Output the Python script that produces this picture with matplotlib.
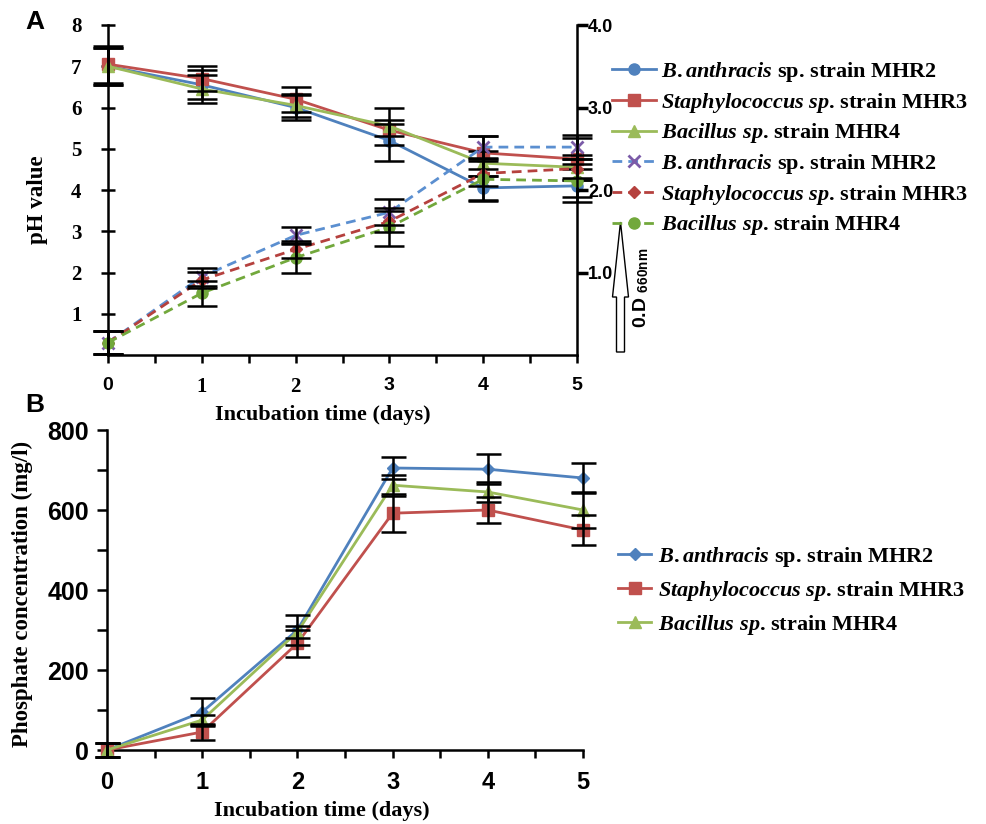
import matplotlib
matplotlib.use('Agg')
import matplotlib.pyplot as plt
from matplotlib.patches import FancyArrow
from matplotlib.ticker import MultipleLocator, FixedLocator
from matplotlib.font_manager import FontProperties

plt.rcParams['mathtext.fontset'] = 'custom'
plt.rcParams['mathtext.it'] = 'Liberation Serif:italic:bold'
plt.rcParams['mathtext.rm'] = 'Liberation Serif:bold'
plt.rcParams['mathtext.sf'] = 'Liberation Sans:bold'
plt.rcParams['font.family'] = ['Liberation Serif', 'DejaVu Serif']
plt.rcParams['font.weight'] = 'bold'

# ---------------- data ----------------
days = [0, 1, 2, 3, 4, 5]
strain_labels = [r'$\mathit{B.anthracis}$ sp. strain MHR2',
                 r'$\mathit{Staphylococcus\ sp}$. strain MHR3',
                 r'$\mathit{Bacillus\ sp}$. strain MHR4']

# pH (left axis, panel A)
ph_mhr2 = [7.0, 6.55, 6.0, 5.2, 4.05, 4.1]
ph_mhr3 = [7.05, 6.7, 6.2, 5.45, 4.9, 4.75]
ph_mhr4 = [7.0, 6.45, 6.05, 5.55, 4.65, 4.55]
ph_mhr2_err = [0.45, 0.35, 0.3, 0.5, 0.3, 0.4]
ph_mhr3_err = [0.45, 0.3, 0.3, 0.15, 0.4, 0.5]
ph_mhr4_err = [0.45, 0.35, 0.27, 0.45, 0.3, 0.3]

# O.D 660nm (right axis, panel A)
od_mhr2 = [0.15, 0.95, 1.45, 1.73, 2.52, 2.52]
od_mhr3 = [0.15, 0.91, 1.28, 1.62, 2.2, 2.26]
od_mhr4 = [0.15, 0.75, 1.18, 1.55, 2.13, 2.11]
od_mhr2_err = [0.14, 0.11, 0.1, 0.16, 0.14, 0.15]
od_mhr3_err = [0.14, 0.1, 0.1, 0.13, 0.15, 0.12]
od_mhr4_err = [0.14, 0.15, 0.18, 0.23, 0.26, 0.2]

# Phosphate concentration (panel B)
po4_mhr2 = [0, 95, 300, 705, 702, 680]
po4_mhr3 = [0, 45, 267, 592, 600, 550]
po4_mhr4 = [0, 75, 295, 662, 645, 600]
po4_mhr2_err = [18, 35, 37, 28, 38, 38]
po4_mhr3_err = [18, 20, 34, 47, 33, 38]
po4_mhr4_err = [18, 12, 15, 26, 25, 45]

ph_ticks = [1, 2, 3, 4, 5, 6, 7, 8]
od_ticks = [1.0, 2.0, 3.0, 4.0]
od_ticklabels = ['1.0', '2.0', '3.0', '4.0']
po4_ticks = [0, 200, 400, 600, 800]

# ---------------- style ----------------
BLUE = '#4F81BD'
RED = '#C0504D'
GREEN = '#9BBB59'
BLUE_D = '#5B8FD0'
RED_D = '#B5413E'
GREEN_D = '#72A83C'
PURPLE = '#7B5BA8'

W, H = 986, 824
fig = plt.figure(figsize=(W / 100, H / 100), dpi=100)


def fx(px):
    return px / W


def fy(py):
    return 1 - py / H


serif_b = FontProperties(family='Liberation Serif', weight='bold', size=15)
sans_b = FontProperties(family='Liberation Sans', weight='bold', size=14)

# ================= Panel A =================
ax1 = fig.add_axes([fx(108), fy(355), fx(577) - fx(108), fy(25) - fy(355)])
ax2 = ax1.twinx()
ax1.set_xlim(0, 5)
ax1.set_ylim(0, 8)
ax2.set_ylim(0, 4)

ekw = dict(fmt='none', ecolor='black', elinewidth=1.8, capthick=1.8,
           capsize=11, zorder=5, clip_on=False)
lkw = dict(lw=2.0, ms=8, clip_on=False, zorder=3)

h1, = ax1.plot(days, ph_mhr2, '-o', color=BLUE, mfc=BLUE, mec=BLUE, **lkw)
h2, = ax1.plot(days, ph_mhr3, '-s', color=RED, mfc=RED, mec=RED, **lkw)
h3, = ax1.plot(days, ph_mhr4, '-^', color=GREEN, mfc=GREEN, mec=GREEN, **lkw)
for y, e in [(ph_mhr2, ph_mhr2_err), (ph_mhr3, ph_mhr3_err), (ph_mhr4, ph_mhr4_err)]:
    ax1.errorbar(days, y, yerr=e, **ekw)

dash = (0, (3.5, 2.2))
h4, = ax2.plot(days, od_mhr2, linestyle=dash, marker='x', color=BLUE_D, mec=PURPLE,
               mew=2, **lkw)
h5, = ax2.plot(days, od_mhr3, linestyle=dash, marker='D', color=RED_D, mfc=RED_D,
               mec=RED_D, lw=2.0, ms=6, clip_on=False, zorder=3)
h6, = ax2.plot(days, od_mhr4, linestyle=dash, marker='o', color=GREEN_D, mfc=GREEN_D,
               mec=GREEN_D, **lkw)
for y, e in [(od_mhr2, od_mhr2_err), (od_mhr3, od_mhr3_err), (od_mhr4, od_mhr4_err)]:
    ax2.errorbar(days, y, yerr=e, **ekw)

for ax in (ax1, ax2):
    ax.spines['top'].set_visible(False)
    for s in ax.spines.values():
        s.set_linewidth(1.8)
ax1.spines['right'].set_visible(False)
ax2.spines['left'].set_visible(False)
ax2.spines['bottom'].set_visible(False)

ax1.yaxis.set_major_locator(FixedLocator(ph_ticks))
ax1.set_yticklabels([str(t) for t in ph_ticks])
ax1.tick_params(axis='y', direction='inout', length=10, width=1.8, pad=14)
for lab in ax1.get_yticklabels():
    lab.set_fontproperties(serif_b)

ax1.xaxis.set_major_locator(FixedLocator(days))
ax1.xaxis.set_minor_locator(MultipleLocator(0.5))
ax1.set_xticklabels([str(d) for d in days])
ax1.tick_params(axis='x', which='both', direction='out', length=6, width=1.8, pad=10)
for i, lab in enumerate(ax1.get_xticklabels()):
    if i in (1, 2):
        lab.set_fontproperties(serif_b)
    else:
        lab.set_fontproperties(sans_b)

ax2.yaxis.set_major_locator(FixedLocator(od_ticks))
ax2.set_yticklabels(od_ticklabels)
ax2.tick_params(axis='y', direction='out', length=8, width=2.5, pad=0)
for lab in ax2.get_yticklabels():
    lab.set_fontproperties(FontProperties(family='Liberation Sans', weight='bold', size=13))

fig.text(fx(37), fy(200), 'pH value', rotation=90, ha='center', va='center',
         fontsize=16.5, fontweight='bold')
fig.text(fx(323), fy(415), 'Incubation time (days)', ha='center', va='center',
         fontsize=16, fontweight='bold')
fig.text(fx(35), fy(22), 'A', ha='center', va='center', fontsize=19,
         fontweight='bold', family='Liberation Sans')

leg1 = fig.legend([h1, h2, h3, h4, h5, h6], strain_labels + strain_labels,
                  loc='upper left', bbox_to_anchor=(fx(612), fy(60)),
                  frameon=False, fontsize=16, handlelength=2.0,
                  handletextpad=0.2, labelspacing=0.3, borderpad=0,
                  borderaxespad=0)

arrow = FancyArrow(6.205, (H - 352) / 100, 0, 1.30, width=0.08, head_width=0.16,
                   head_length=0.75, length_includes_head=True,
                   transform=fig.dpi_scale_trans, fc='white', ec='black', lw=1.0)
fig.add_artist(arrow)
fig.text(fx(641), fy(288), r'0.D $_{\mathsf{660nm}}$', rotation=90, ha='center',
         va='center', fontsize=14, fontweight='bold', family='Liberation Sans')

# ================= Panel B =================
ax3 = fig.add_axes([fx(107), fy(750), fx(583) - fx(107), fy(430) - fy(750)])
ax3.set_xlim(0, 5)
ax3.set_ylim(0, 800)
ekw2 = dict(ekw)
ekw2['capsize'] = 9

p1, = ax3.plot(days, po4_mhr2, '-D', color=BLUE, mfc=BLUE, mec=BLUE, lw=2.0, ms=6,
               clip_on=False, zorder=3)
p2, = ax3.plot(days, po4_mhr3, '-s', color=RED, mfc=RED, mec=RED, lw=2.0, ms=8,
               clip_on=False, zorder=3)
p3, = ax3.plot(days, po4_mhr4, '-^', color=GREEN, mfc=GREEN, mec=GREEN, lw=2.0, ms=8,
               clip_on=False, zorder=3)
for y, e in [(po4_mhr2, po4_mhr2_err), (po4_mhr3, po4_mhr3_err), (po4_mhr4, po4_mhr4_err)]:
    ax3.errorbar(days, y, yerr=e, **ekw2)

ax3.spines['top'].set_visible(False)
ax3.spines['right'].set_visible(False)
for s in ax3.spines.values():
    s.set_linewidth(1.8)
ax3.yaxis.set_major_locator(FixedLocator(po4_ticks))
ax3.yaxis.set_minor_locator(MultipleLocator(100))
ax3.set_yticklabels([str(t) for t in po4_ticks])
ax3.tick_params(axis='y', which='both', direction='out', length=7, width=1.8, pad=6)
for lab in ax3.get_yticklabels():
    lab.set_fontproperties(FontProperties(family='Liberation Sans', weight='bold', size=18))
ax3.xaxis.set_major_locator(FixedLocator(days))
ax3.xaxis.set_minor_locator(MultipleLocator(0.5))
ax3.set_xticklabels([str(d) for d in days])
ax3.tick_params(axis='x', which='both', direction='out', length=6, width=1.8, pad=9)
for lab in ax3.get_xticklabels():
    lab.set_fontproperties(FontProperties(family='Liberation Sans', weight='bold', size=17))

fig.text(fx(22), fy(594), 'Phosphate concentration (mg/l)', rotation=90, ha='center',
         va='center', fontsize=16.5, fontweight='bold')
fig.text(fx(322), fy(811), 'Incubation time (days)', ha='center', va='center',
         fontsize=16, fontweight='bold')
fig.text(fx(35), fy(405), 'B', ha='center', va='center', fontsize=19,
         fontweight='bold', family='Liberation Sans')

leg2 = fig.legend([p1, p2, p3], strain_labels, loc='upper left',
                  bbox_to_anchor=(fx(618), fy(545)), frameon=False, fontsize=16,
                  handlelength=1.5, handletextpad=0.3, labelspacing=0.45,
                  borderpad=0, borderaxespad=0)

fig.savefig('out.png', dpi=100)
